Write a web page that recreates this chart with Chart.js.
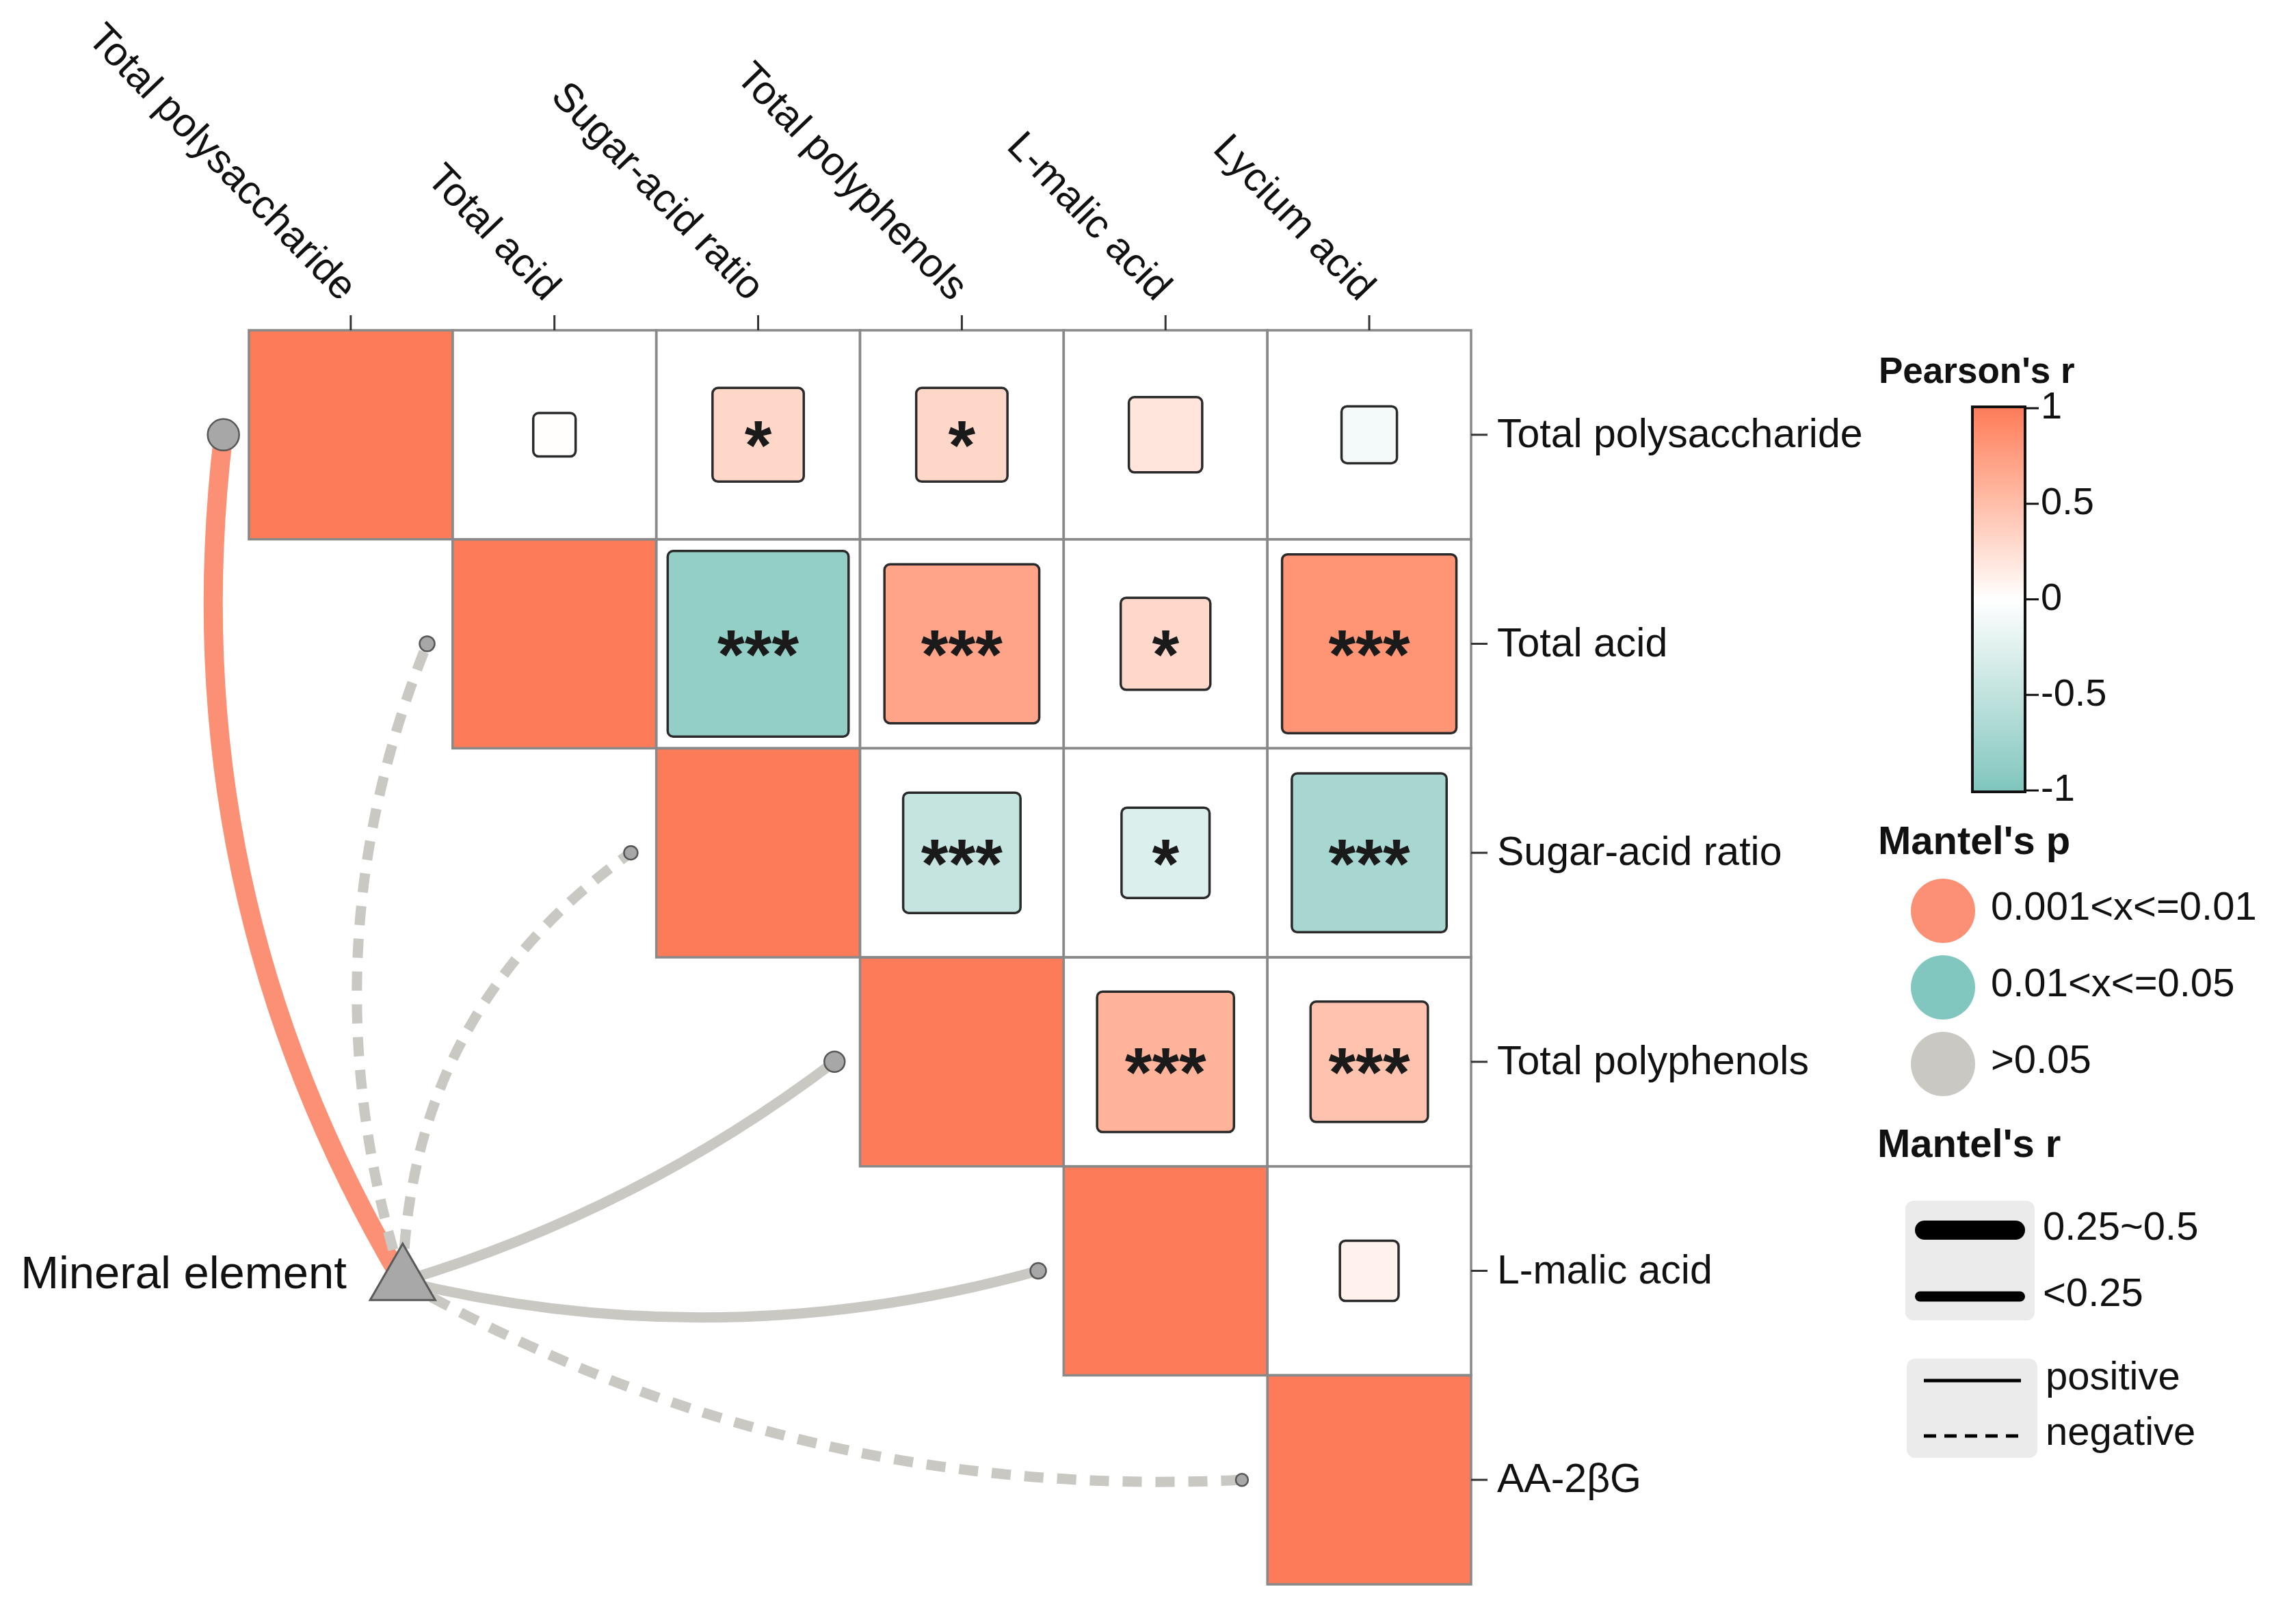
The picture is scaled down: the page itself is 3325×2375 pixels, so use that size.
<!DOCTYPE html>
<html>
<head>
<meta charset="utf-8">
<script src="https://cdn.jsdelivr.net/npm/chart.js@4.4.1/dist/chart.umd.min.js"></script>
<style>
  html, body { margin: 0; padding: 0; background: #fff; }
  canvas { display: block; }
</style>
</head>
<body>
<canvas id="chart" width="3325" height="2375"></canvas>
<script>
// ===== data =====
const colLabels = ['Total polysaccharide', 'Total acid', 'Sugar-acid ratio', 'Total polyphenols', 'L-malic acid', 'Lycium acid'];
const rowLabels = ['Total polysaccharide', 'Total acid', 'Sugar-acid ratio', 'Total polyphenols', 'L-malic acid', 'AA-2βG'];

// Pearson's r (upper triangle, null = not drawn)
const pearsonR = [
    [1,    0.01,  0.31,  0.31,  0.20, -0.09],
    [null, 1,    -0.86,  0.70,  0.30,  0.82],
    [null, null,  1,    -0.47, -0.29, -0.70],
    [null, null,  null,  1,     0.59,  0.47],
    [null, null,  null,  null,  1,     0.11],
    [null, null,  null,  null,  null,  1]
];
const pearsonSig = [
    ['', '',  '*',   '*',   '',    ''],
    ['', '',  '***', '***', '*',   '***'],
    ['', '',  '',    '***', '*',   '***'],
    ['', '',  '',    '',    '***', '***'],
    ['', '',  '',    '',    '',    ''],
    ['', '',  '',    '',    '',    '']
];

// Mantel test: "Mineral element" vs each row variable
const envLabel = 'Mineral element';
const mantelP = ['0.001<x<=0.01', '>0.05', '>0.05', '>0.05', '>0.05', '>0.05'];
const mantelR = ['0.25~0.5', '<0.25', '<0.25', '<0.25', '<0.25', '<0.25'];
const mantelSign = ['positive', 'negative', 'negative', 'positive', 'positive', 'negative'];

const pLevels = ['0.001<x<=0.01', '0.01<x<=0.05', '>0.05'];
const rLevels = ['0.25~0.5', '<0.25'];
const signLevels = ['positive', 'negative'];
const colorTicks = [1, 0.5, 0, -0.5, -1];

// ===== styles =====
const FONT = '"Liberation Sans", Arial, sans-serif';
const LOW = '#80C6BE', MID = '#FFFFFF', HIGH = '#FC7C59';
const pColors = { '0.001<x<=0.01': '#FC9075', '0.01<x<=0.05': '#82C7BF', '>0.05': '#C9C8C2' };
const rWidths = { '0.25~0.5': 28, '<0.25': 15 };
const signDash = { positive: [], negative: [28, 20] };
const linkCurve = [0.17, 0.18, 0.25, -0.09, -0.13, -0.145];  // bend of each link
const nodeRadius = [23, 11, 10, 15, 11.5, 9];
const ENV_X = 0.755, ENV_Y = 4.55;   // env node, in cell units
const NODE_SHIFT = -0.625;           // spec node left of the diagonal cell centre

// ===== colour scale (Lab interpolation like ggplot's gradient2) =====
function hexToRgb(h) {
    const n = parseInt(h.slice(1), 16);
    return [(n >> 16) & 255, (n >> 8) & 255, n & 255];
}
const toLin = c => { c /= 255; return c <= 0.04045 ? c / 12.92 : Math.pow((c + 0.055) / 1.055, 2.4); };
const toSrgb = c => {
    c = c <= 0.0031308 ? 12.92 * c : 1.055 * Math.pow(c, 1 / 2.4) - 0.055;
    return Math.round(Math.max(0, Math.min(1, c)) * 255);
};
const fLab = t => t > 0.008856 ? Math.cbrt(t) : 7.787 * t + 16 / 116;
const fInv = t => t > 0.206893 ? t * t * t : (t - 16 / 116) / 7.787;
function rgbToLab(rgb) {
    const [r, g, b] = rgb.map(toLin);
    const X = (0.4124 * r + 0.3576 * g + 0.1805 * b) / 0.95047;
    const Y = (0.2126 * r + 0.7152 * g + 0.0722 * b);
    const Z = (0.0193 * r + 0.1192 * g + 0.9505 * b) / 1.08883;
    const fx = fLab(X), fy = fLab(Y), fz = fLab(Z);
    return [116 * fy - 16, 500 * (fx - fy), 200 * (fy - fz)];
}
function labToRgb([L, a, b]) {
    const fy = (L + 16) / 116, fx = fy + a / 500, fz = fy - b / 200;
    const X = fInv(fx) * 0.95047, Y = fInv(fy), Z = fInv(fz) * 1.08883;
    const r = 3.2406 * X - 1.5372 * Y - 0.4986 * Z;
    const g = -0.9689 * X + 1.8758 * Y + 0.0415 * Z;
    const bb = 0.0557 * X - 0.2040 * Y + 1.0570 * Z;
    return `rgb(${toSrgb(r)},${toSrgb(g)},${toSrgb(bb)})`;
}
const labLow = rgbToLab(hexToRgb(LOW)), labMid = rgbToLab(hexToRgb(MID)), labHigh = rgbToLab(hexToRgb(HIGH));
function colorFor(r) {
    const t = Math.min(1, Math.abs(r));
    const end = r >= 0 ? labHigh : labLow;
    return labToRgb(labMid.map((m, k) => m + (end[k] - m) * t));
}
const sideFor = r => 0.2 + 0.8 * Math.abs(r);

// ===== plugin: heatmap, axes, links, legends =====
function roundRect(ctx, x, y, w, h, rad) {
    ctx.beginPath();
    ctx.roundRect(x, y, w, h, rad);
}

const corrPlugin = {
    id: 'corr',
    beforeDatasetsDraw(chart) {
        const { ctx } = chart;
        const xs = chart.scales.x, ys = chart.scales.y;
        const n = rowLabels.length;
        const gridTop = ys.getPixelForValue(0), gridRight = xs.getPixelForValue(colLabels.length);
        ctx.save();

        // cells + diagonal
        for (let i = 0; i < n; i++) {
            for (let j = i; j < colLabels.length; j++) {
                const x0 = xs.getPixelForValue(j), x1 = xs.getPixelForValue(j + 1);
                const y0 = ys.getPixelForValue(i), y1 = ys.getPixelForValue(i + 1);
                ctx.fillStyle = i === j ? colorFor(pearsonR[i][j]) : '#fff';
                ctx.fillRect(x0, y0, x1 - x0, y1 - y0);
            }
        }
        ctx.strokeStyle = '#898989';
        ctx.lineWidth = 3.5;
        for (let i = 0; i < n; i++) {
            for (let j = i; j < colLabels.length; j++) {
                const x0 = xs.getPixelForValue(j), x1 = xs.getPixelForValue(j + 1);
                const y0 = ys.getPixelForValue(i), y1 = ys.getPixelForValue(i + 1);
                ctx.strokeRect(x0, y0, x1 - x0, y1 - y0);
            }
        }

        // squares + stars
        for (let i = 0; i < n; i++) {
            for (let j = i + 1; j < colLabels.length; j++) {
                const r = pearsonR[i][j];
                if (r === null) continue;
                const s = sideFor(r) / 2;
                const x0 = xs.getPixelForValue(j + 0.5 - s), x1 = xs.getPixelForValue(j + 0.5 + s);
                const y0 = ys.getPixelForValue(i + 0.5 - s), y1 = ys.getPixelForValue(i + 0.5 + s);
                roundRect(ctx, x0, y0, x1 - x0, y1 - y0, 8);
                ctx.fillStyle = colorFor(r);
                ctx.fill();
                ctx.strokeStyle = '#2a2a2a';
                ctx.lineWidth = 3.5;
                ctx.stroke();

                const sig = pearsonSig[i][j];
                if (sig) {
                    ctx.font = `bold 102px ${FONT}`;
                    ctx.fillStyle = '#1a1a1a';
                    ctx.textAlign = 'center';
                    ctx.textBaseline = 'alphabetic';
                    const m = ctx.measureText(sig);
                    const cy = ys.getPixelForValue(i + 0.5);
                    ctx.fillText(sig, xs.getPixelForValue(j + 0.5),
                        cy + (m.actualBoundingBoxAscent - m.actualBoundingBoxDescent) / 2);
                }
            }
        }

        // top axis: ticks + rotated labels
        ctx.strokeStyle = '#333';
        ctx.lineWidth = 3;
        ctx.fillStyle = '#111';
        ctx.font = `59px ${FONT}`;
        colLabels.forEach((lab, j) => {
            const cx = xs.getPixelForValue(j + 0.5);
            ctx.beginPath();
            ctx.moveTo(cx, gridTop);
            ctx.lineTo(cx, gridTop - 22);
            ctx.stroke();
            ctx.save();
            ctx.translate(cx - 4, gridTop - 52);
            ctx.rotate(46 * Math.PI / 180);
            ctx.textAlign = 'right';
            ctx.textBaseline = 'middle';
            ctx.fillText(lab, 0, 0);
            ctx.restore();
        });

        // right axis: ticks + labels
        ctx.textAlign = 'left';
        ctx.textBaseline = 'middle';
        rowLabels.forEach((lab, i) => {
            const cy = ys.getPixelForValue(i + 0.5);
            ctx.beginPath();
            ctx.moveTo(gridRight, cy);
            ctx.lineTo(gridRight + 24, cy);
            ctx.stroke();
            ctx.fillText(lab, gridRight + 38, cy + 2);
        });

        // Mantel links
        const ex = xs.getPixelForValue(ENV_X), ey = ys.getPixelForValue(ENV_Y);
        rowLabels.forEach((_, i) => {
            const nx = xs.getPixelForValue(i + 0.5 + NODE_SHIFT), ny = ys.getPixelForValue(i + 0.5);
            const dx = nx - ex, dy = ny - ey, k = linkCurve[i];
            const cx = (ex + nx) / 2 + k * dy, cy = (ey + ny) / 2 - k * dx;
            ctx.beginPath();
            ctx.moveTo(ex, ey);
            ctx.quadraticCurveTo(cx, cy, nx, ny);
            ctx.strokeStyle = pColors[mantelP[i]];
            ctx.lineWidth = rWidths[mantelR[i]];
            ctx.lineCap = 'butt';
            ctx.setLineDash(signDash[mantelSign[i]]);
            ctx.stroke();
        });
        ctx.setLineDash([]);
        ctx.restore();
    },
    afterDraw(chart) {
        const { ctx } = chart;
        const xs = chart.scales.x, ys = chart.scales.y;
        ctx.save();

        // env label
        ctx.font = `67px ${FONT}`;
        ctx.fillStyle = '#111';
        ctx.textAlign = 'right';
        ctx.textBaseline = 'middle';
        ctx.fillText(envLabel, xs.getPixelForValue(ENV_X) - 82, ys.getPixelForValue(ENV_Y) - 8);

        // Pearson's r colour bar
        ctx.textAlign = 'left';
        ctx.textBaseline = 'alphabetic';
        ctx.font = `bold 53px ${FONT}`;
        ctx.fillText("Pearson's r", 2747, 560);
        const bx = 2884, bw = 77, bTop = 597, bBot = 1156;
        const grad = ctx.createLinearGradient(0, bTop, 0, bBot);
        for (let s = 0; s <= 40; s++) grad.addColorStop(s / 40, colorFor(1 - 2 * s / 40));
        ctx.fillStyle = grad;
        ctx.fillRect(bx, bTop - 2, bw, bBot - bTop + 4);
        ctx.strokeStyle = '#111';
        ctx.lineWidth = 4;
        ctx.strokeRect(bx, bTop - 2, bw, bBot - bTop + 4);
        ctx.font = `56px ${FONT}`;
        ctx.fillStyle = '#111';
        ctx.textBaseline = 'middle';
        ctx.lineWidth = 3;
        colorTicks.forEach(v => {
            const y = bTop + (1 - v) / 2 * (bBot - bTop);
            ctx.beginPath();
            ctx.moveTo(bx + bw, y);
            ctx.lineTo(bx + bw + 20, y);
            ctx.stroke();
            ctx.fillText(String(v), bx + bw + 23, y);
        });

        // Mantel's p
        ctx.textBaseline = 'alphabetic';
        ctx.font = `bold 58px ${FONT}`;
        ctx.fillText("Mantel's p", 2746, 1249);
        ctx.font = `58px ${FONT}`;
        ctx.textBaseline = 'middle';
        pLevels.forEach((lab, k) => {
            const y = 1332 + k * 112;
            ctx.beginPath();
            ctx.arc(2841, y, 47, 0, Math.PI * 2);
            ctx.fillStyle = pColors[lab];
            ctx.fill();
            ctx.fillStyle = '#111';
            ctx.fillText(lab, 2911, y - 3);
        });

        // Mantel's r
        ctx.textBaseline = 'alphabetic';
        ctx.font = `bold 58px ${FONT}`;
        ctx.fillText("Mantel's r", 2745, 1692);
        ctx.fillStyle = '#EBEBEB';
        roundRect(ctx, 2786, 1756, 189, 175, 12);
        ctx.fill();
        roundRect(ctx, 2788, 1987, 191, 145, 12);
        ctx.fill();

        ctx.font = `58px ${FONT}`;
        ctx.textBaseline = 'middle';
        ctx.strokeStyle = '#000';
        ctx.lineCap = 'round';
        rLevels.forEach((lab, k) => {
            const y = 1799 + k * 97;
            ctx.lineWidth = rWidths[lab];
            ctx.beginPath();
            ctx.moveTo(2800 + rWidths[lab] / 2, y);
            ctx.lineTo(2961 - rWidths[lab] / 2, y);
            ctx.stroke();
            ctx.fillStyle = '#111';
            ctx.fillText(lab, 2987, y - 2);
        });
        ctx.lineCap = 'butt';
        signLevels.forEach((lab, k) => {
            const y = 2019 + k * 81;
            ctx.lineWidth = 5;
            ctx.setLineDash(lab === 'negative' ? [18, 12] : []);
            ctx.beginPath();
            ctx.moveTo(2813, y);
            ctx.lineTo(2955, y);
            ctx.stroke();
            ctx.setLineDash([]);
            ctx.fillStyle = '#111';
            ctx.fillText(lab, 2991, y - 3);
        });
        ctx.restore();
    }
};

// ===== chart =====
const specNodes = rowLabels.map((_, i) => ({ x: i + 0.5 + NODE_SHIFT, y: i + 0.5 }));

new Chart(document.getElementById('chart'), {
    type: 'scatter',
    data: {
        datasets: [
            {
                label: 'spec',
                data: specNodes,
                pointStyle: 'circle',
                pointRadius: nodeRadius,
                backgroundColor: '#A7A7A7',
                borderColor: '#575757',
                borderWidth: 2.5,
                clip: false
            },
            {
                label: 'env',
                data: [{ x: ENV_X, y: ENV_Y }],
                pointStyle: 'triangle',
                pointRadius: 55,
                backgroundColor: '#A8A8A8',
                borderColor: '#5a5a5a',
                borderWidth: 3,
                clip: false
            }
        ]
    },
    options: {
        responsive: false,
        devicePixelRatio: 1,
        animation: false,
        events: [],
        // x spans -0.5..6 so the left-most node sits inside the plot area
        layout: { padding: { left: 215, top: 483, right: 1174, bottom: 30 } },
        plugins: { legend: { display: false }, tooltip: { enabled: false } },
        scales: {
            x: { type: 'linear', min: -0.5, max: 6, display: false },
            y: { type: 'linear', min: 0, max: 6, reverse: true, display: false }
        }
    },
    plugins: [corrPlugin]
});
</script>
</body>
</html>
